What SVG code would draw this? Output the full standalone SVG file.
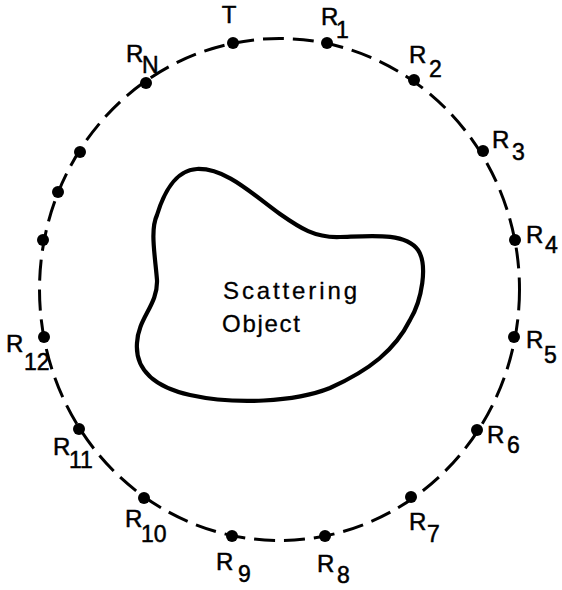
<svg xmlns="http://www.w3.org/2000/svg" width="562" height="590" viewBox="0 0 562 590">
<style>
.lbl{font-family:"Liberation Sans",Arial,sans-serif;font-size:24px;fill:#000;stroke:#000;stroke-width:0.5}
.sub{font-size:23px}
.obj{stroke-width:0.3}
.dot{fill:#000}
.ring{fill:none;stroke:#000;stroke-width:3;stroke-dasharray:21 9}
.blob{fill:none;stroke:#000;stroke-width:4.2;stroke-linejoin:round}
</style>
<rect width="562" height="590" fill="#fff"/>
<g id="connectors">
<ellipse class="ring" cx="279.5" cy="289.5" rx="240" ry="251"/>
</g>
<g id="object">
<path class="blob" d="M197,169 C225,168 250,192 280,214 C300,228 315,238 340,237 C370,236 405,232 418,250 C428,265 422,300 410,320 C395,350 370,370 330,388 C295,402 235,405 190,395 C155,387 135,370 137,343 C138,318 158,305 157,280 C155,255 150,230 157,215 C163,195 175,170 197,169 Z"/>
<text class="lbl obj" x="223" y="299" textLength="134" lengthAdjust="spacing">Scattering</text>
<text class="lbl obj" x="222" y="332" textLength="78" lengthAdjust="spacing">Object</text>
</g>
<g id="T"><circle class="dot" cx="233" cy="43" r="6"/><text class="lbl" x="229" y="23" text-anchor="middle">T</text></g>
<g id="R1"><circle class="dot" cx="327" cy="43" r="6"/><text class="lbl" x="321" y="25">R</text><text class="lbl sub" x="336" y="38">1</text></g>
<g id="R2"><circle class="dot" cx="414" cy="80" r="6"/><text class="lbl" x="409" y="63">R</text><text class="lbl sub" x="429" y="77">2</text></g>
<g id="R3"><circle class="dot" cx="483" cy="151" r="6"/><text class="lbl" x="492" y="148">R</text><text class="lbl sub" x="512" y="160">3</text></g>
<g id="R4"><circle class="dot" cx="515" cy="240" r="6"/><text class="lbl" x="526" y="243">R</text><text class="lbl sub" x="545" y="253">4</text></g>
<g id="R5"><circle class="dot" cx="514" cy="337" r="6"/><text class="lbl" x="526" y="348">R</text><text class="lbl sub" x="544" y="363">5</text></g>
<g id="R6"><circle class="dot" cx="477" cy="430" r="6"/><text class="lbl" x="487" y="443">R</text><text class="lbl sub" x="507" y="453">6</text></g>
<g id="R7"><circle class="dot" cx="411" cy="497" r="6"/><text class="lbl" x="409" y="530">R</text><text class="lbl sub" x="427" y="542">7</text></g>
<g id="R8"><circle class="dot" cx="325" cy="536" r="6"/><text class="lbl" x="317" y="572">R</text><text class="lbl sub" x="337" y="583">8</text></g>
<g id="R9"><circle class="dot" cx="232" cy="536" r="6"/><text class="lbl" x="216" y="570">R</text><text class="lbl sub" x="238" y="582">9</text></g>
<g id="R10"><circle class="dot" cx="144" cy="498" r="6"/><text class="lbl" x="125" y="527">R</text><text class="lbl sub" x="141" y="542">10</text></g>
<g id="R11"><circle class="dot" cx="79" cy="429" r="6"/><text class="lbl" x="53" y="455">R</text><text class="lbl sub" x="69" y="468">11</text></g>
<g id="R12"><circle class="dot" cx="44" cy="337" r="6"/><text class="lbl" x="6" y="352">R</text><text class="lbl sub" x="24" y="370">12</text></g>
<g id="Ra"><circle class="dot" cx="43" cy="240" r="6"/></g>
<g id="Rb"><circle class="dot" cx="58" cy="192" r="6"/></g>
<g id="Rc"><circle class="dot" cx="80" cy="152" r="6"/></g>
<g id="RN"><circle class="dot" cx="146" cy="83" r="6"/><text class="lbl" x="126" y="62">R</text><text class="lbl sub" x="142" y="73">N</text></g>
</svg>
